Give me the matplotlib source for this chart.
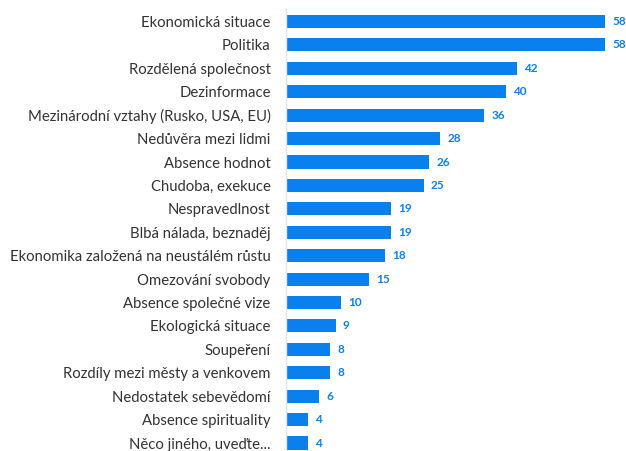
import matplotlib
matplotlib.use("Agg")
import matplotlib.pyplot as plt

categories = [
    "Ekonomická situace",
    "Politika",
    "Rozdělená společnost",
    "Dezinformace",
    "Mezinárodní vztahy (Rusko, USA, EU)",
    "Nedůvěra mezi lidmi",
    "Absence hodnot",
    "Chudoba, exekuce",
    "Nespravedlnost",
    "Blbá nálada, beznaděj",
    "Ekonomika založená na neustálém růstu",
    "Omezování svobody",
    "Absence společné vize",
    "Ekologická situace",
    "Soupeření",
    "Rozdíly mezi městy a venkovem",
    "Nedostatek sebevědomí",
    "Absence spirituality",
    "Něco jiného, uveďte...",
]
values = [58, 58, 42, 40, 36, 28, 26, 25, 19, 19, 18, 15, 10, 9, 8, 8, 6, 4, 4]

BLUE = "#0a80ee"

fig = plt.figure(figsize=(6.26, 4.51), dpi=100)
ax = fig.add_axes([286 / 626, 0, 336 / 626, 1 - 8 / 451])
pos = list(range(len(categories)))
ax.barh(pos, values, height=0.56, color=BLUE)
ax.set_xlim(0, 61)
ax.set_ylim(18.34, -0.576)
ax.set_yticks(pos)
ax.set_yticklabels(categories, fontsize=10.7, color="#333333", family="Lato")
ax.tick_params(axis="y", length=0, pad=11)
ax.set_xticks([])
for s in ["top", "right", "bottom"]:
    ax.spines[s].set_visible(False)
ax.spines["left"].set_color("#e6e6e6")
ax.spines["left"].set_linewidth(1)
for p, v in zip(pos, values):
    ax.text(v + 1.3, p, str(v), va="center", ha="left", fontsize=8.5,
            fontweight="bold", color=BLUE, family="Lato", clip_on=False)
fig.savefig("out.png", dpi=100)
